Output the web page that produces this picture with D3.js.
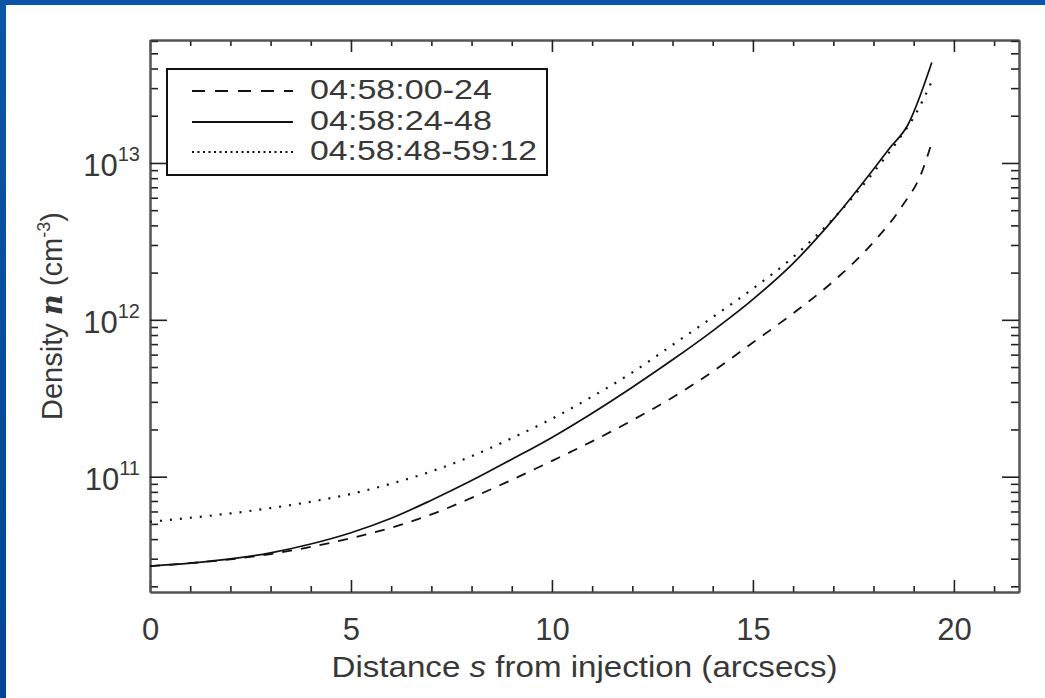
<!DOCTYPE html>
<html>
<head>
<meta charset="utf-8">
<script src="https://cdn.jsdelivr.net/npm/d3@7"></script>
<style>
  html, body { margin: 0; padding: 0; background: #fff; }
  svg { display: block; }
  text { font-family: "Liberation Sans", Arial, sans-serif; fill: #383838; }
</style>
</head>
<body>
<svg width="1045" height="698"></svg>
<script>
// distance s along the loop (arcsecs)
var sValues = [0, 1, 2, 3, 4, 5, 6, 7, 8, 9, 10, 11, 12, 13, 14, 15, 16, 17, 18];

// density n (cm^-3) for each time interval
var dens0024 = [2.69e10, 2.81e10, 2.97e10, 3.21e10, 3.57e10, 4.05e10, 4.73e10, 5.75e10, 7.33e10, 9.55e10,
                1.26e11, 1.68e11, 2.29e11, 3.20e11, 4.68e11, 7.16e11, 1.10e12, 1.76e12, 3.13e12];
var dens0024Tail = [{s: 18.7, n: 5.25e12}, {s: 19.2, n: 8.71e12}, {s: 19.45, n: 1.35e13}];

var dens2448 = [2.69e10, 2.81e10, 2.99e10, 3.27e10, 3.72e10, 4.39e10, 5.43e10, 7.08e10, 9.44e10, 1.29e11,
                1.78e11, 2.54e11, 3.72e11, 5.56e11, 8.51e11, 1.35e12, 2.29e12, 4.37e12, 9.12e12];
var dens2448Tail = [{s: 18.4, n: 1.24e13}, {s: 18.85, n: 1.74e13}, {s: 19.45, n: 4.37e13}];

var dens4812 = [5.16e10, 5.47e10, 5.83e10, 6.31e10, 6.92e10, 7.76e10, 9.02e10, 1.08e11, 1.35e11, 1.76e11,
                2.34e11, 3.24e11, 4.62e11, 6.92e11, 1.04e12, 1.58e12, 2.51e12, 4.42e12, 8.71e12];
var dens4812Tail = [{s: 18.7, n: 1.50e13}, {s: 19.0, n: 1.95e13}, {s: 19.45, n: 3.31e13}];

var seriesNames = ["04:58:00-24", "04:58:24-48", "04:58:48-59:12"];
var xTicks = [0, 5, 10, 15, 20];
var yTickExps = [11, 12, 13];

var svg = d3.select("svg");

// blue slide frame
var grad = svg.append("defs").append("linearGradient")
  .attr("id", "leftband").attr("x1", 0).attr("y1", 0).attr("x2", 0).attr("y2", 1);
grad.append("stop").attr("offset", "0%").attr("stop-color", "#0b56a6");
grad.append("stop").attr("offset", "100%").attr("stop-color", "#004690");
svg.append("rect").attr("x", 0).attr("y", 0).attr("width", 1045).attr("height", 5).attr("fill", "#0a55a6");
svg.append("rect").attr("x", 0).attr("y", 0).attr("width", 6).attr("height", 698).attr("fill", "url(#leftband)");

// plot box ("top" is taken by window.top, so use other names)
var pLeft = 150, pRight = 1019, pTop = 40, pBottom = 592;

var x = d3.scaleLinear().domain([0, 21.62]).range([pLeft, pRight]);
var y = d3.scaleLog().domain([1.84e10, 6.08e13]).range([pBottom, pTop]);

function build(vals, tail) {
  var pts = vals.map(function(v, i) { return {s: sValues[i], n: v}; });
  return pts.concat(tail);
}
var series = [
  {name: seriesNames[0], pts: build(dens0024, dens0024Tail), dash: "10,9", legendDash: "13,10", w: 1.8},
  {name: seriesNames[1], pts: build(dens2448, dens2448Tail), dash: null, legendDash: null, w: 1.7},
  {name: seriesNames[2], pts: build(dens4812, dens4812Tail), dash: "2,8", legendDash: "2,3.5", w: 2.2}
];

// minor tick values
var xMinor = d3.range(1, 22).filter(function(v) { return v % 5 !== 0; });
var yMinor = [];
[10, 11, 12, 13].forEach(function(k) {
  for (var m = 2; m <= 9; m++) {
    var v = m * Math.pow(10, k);
    if (v >= 1.84e10 && v <= 6.08e13) yMinor.push(v);
  }
});
var yMajor = yTickExps.map(function(e) { return Math.pow(10, e); });

function styleAxis(g) {
  g.select(".domain").attr("stroke", "#555").attr("stroke-width", 2);
  g.selectAll(".tick line").attr("stroke", "#222").attr("stroke-width", 1.6);
}

// bottom
svg.append("g").attr("transform", "translate(0," + pBottom + ")")
  .call(d3.axisBottom(x).tickValues(xMinor).tickSize(-6).tickSizeOuter(0).tickFormat(""))
  .call(styleAxis);
var xb = svg.append("g").attr("transform", "translate(0," + pBottom + ")")
  .call(d3.axisBottom(x).tickValues(xTicks).tickSize(-12).tickSizeOuter(0).tickPadding(26).tickFormat(d3.format("d")))
  .call(styleAxis);
xb.selectAll("text").attr("font-size", 31).attr("fill", "#383838")
  .style("font-family", "Liberation Sans, Arial, sans-serif");

// top
svg.append("g").attr("transform", "translate(0," + pTop + ")")
  .call(d3.axisTop(x).tickValues(xMinor).tickSize(-6).tickSizeOuter(0).tickFormat(""))
  .call(styleAxis);
svg.append("g").attr("transform", "translate(0," + pTop + ")")
  .call(d3.axisTop(x).tickValues(xTicks).tickSize(-12).tickSizeOuter(0).tickFormat(""))
  .call(styleAxis);

// left
svg.append("g").attr("transform", "translate(" + pLeft + ",0)")
  .call(d3.axisLeft(y).tickValues(yMinor).tickSize(-8).tickSizeOuter(0).tickFormat(""))
  .call(styleAxis);
var yl = svg.append("g").attr("transform", "translate(" + pLeft + ",0)")
  .call(d3.axisLeft(y).tickValues(yMajor).tickSize(-17).tickSizeOuter(0).tickFormat(""))
  .call(styleAxis);
yl.selectAll(".tick text").remove();
yl.selectAll(".tick").each(function(d) {
  var t = d3.select(this).append("text")
    .attr("x", -10).attr("y", 13)
    .attr("text-anchor", "end")
    .attr("font-size", 31).attr("fill", "#383838")
    .style("font-family", "Liberation Sans, Arial, sans-serif");
  t.append("tspan").text("10");
  t.append("tspan").attr("font-size", 20).attr("dy", -15).text(Math.round(Math.log10(d)));
});

// right
svg.append("g").attr("transform", "translate(" + pRight + ",0)")
  .call(d3.axisRight(y).tickValues(yMinor).tickSize(-8).tickSizeOuter(0).tickFormat(""))
  .call(styleAxis);
svg.append("g").attr("transform", "translate(" + pRight + ",0)")
  .call(d3.axisRight(y).tickValues(yMajor).tickSize(-17).tickSizeOuter(0).tickFormat(""))
  .call(styleAxis);

// curves
var line = d3.line()
  .x(function(d) { return x(d.s); })
  .y(function(d) { return y(d.n); })
  .curve(d3.curveMonotoneX);

svg.append("g").selectAll("path")
  .data(series)
  .join("path")
  .attr("d", function(d) { return line(d.pts); })
  .attr("fill", "none")
  .attr("stroke", "#111")
  .attr("stroke-width", function(d) { return d.w; })
  .attr("stroke-dasharray", function(d) { return d.dash; });

// axis titles
var xt = svg.append("text")
  .attr("x", (pLeft + pRight) / 2).attr("y", 677)
  .attr("text-anchor", "middle").attr("font-size", 29)
  .attr("textLength", 506).attr("lengthAdjust", "spacingAndGlyphs");
xt.append("tspan").text("Distance ");
xt.append("tspan").attr("font-style", "italic").text("s");
xt.append("tspan").text(" from injection (arcsecs)");

var yt = svg.append("text")
  .attr("transform", "translate(62," + ((pTop + pBottom) / 2) + ") rotate(-90)")
  .attr("text-anchor", "middle").attr("font-size", 29);
yt.append("tspan").text("Density ");
yt.append("tspan").attr("font-style", "italic").attr("font-weight", "bold")
  .style("font-family", "DejaVu Serif, serif").text("n");
yt.append("tspan").text(" (cm");
yt.append("tspan").attr("font-size", 18).attr("dy", -12).text("-3");
yt.append("tspan").attr("dy", 12).text(")");

// legend
var lg = svg.append("g");
lg.append("rect")
  .attr("x", 167).attr("y", 69).attr("width", 380).attr("height", 106)
  .attr("fill", "#fff").attr("stroke", "#111").attr("stroke-width", 2);
var rowY = [91, 122, 152];
var rows = lg.selectAll("g.row").data(series).join("g").attr("class", "row");
rows.append("line")
  .attr("x1", 192).attr("x2", 293)
  .attr("y1", function(d, i) { return rowY[i]; })
  .attr("y2", function(d, i) { return rowY[i]; })
  .attr("stroke", "#111").attr("stroke-width", 2)
  .attr("stroke-dasharray", function(d) { return d.legendDash; });
rows.append("text")
  .attr("x", 310)
  .attr("y", function(d, i) { return rowY[i] + 8; })
  .attr("font-size", 28)
  .attr("textLength", function(d, i) { return i === 2 ? 227 : 182; })
  .attr("lengthAdjust", "spacingAndGlyphs")
  .text(function(d) { return d.name; });
</script>
</body>
</html>
